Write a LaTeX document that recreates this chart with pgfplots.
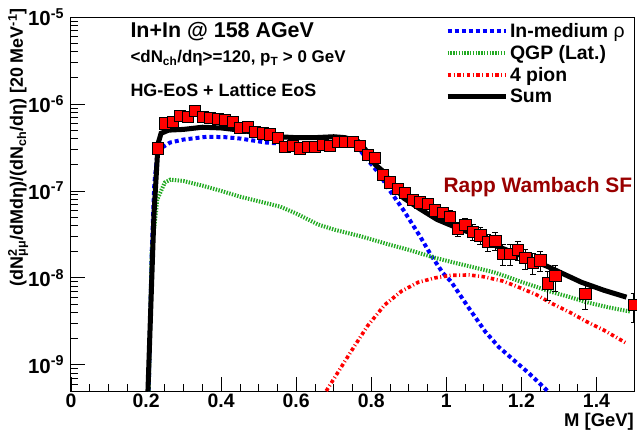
\documentclass[border=0pt]{standalone}
\usepackage{fontspec}
\setmainfont{Liberation Sans}
\usepackage{pgfplots}
\usepackage{pgfplotstable}
\pgfplotsset{compat=1.18}
\definecolor{rwred}{HTML}{990000}
\definecolor{rhoblue}{HTML}{0000FF}
\definecolor{qgpgreen}{HTML}{22AA22}
\definecolor{pionred}{HTML}{FF0000}

% NA60-like data: M [GeV], yield, error
\pgfplotstableread{
x y ey
0.23 3.1e-7 0.3e-7
0.25 6.0e-7 0.8e-7
0.27 6.2e-7 0.8e-7
0.29 7.4e-7 1.0e-7
0.31 7.1e-7 0.9e-7
0.33 8.3e-7 1.0e-7
0.35 7.2e-7 0.9e-7
0.37 6.9e-7 0.8e-7
0.39 6.7e-7 0.8e-7
0.41 6.6e-7 0.7e-7
0.43 6.3e-7 0.7e-7
0.45 5.3e-7 0.6e-7
0.47 5.5e-7 0.6e-7
0.49 4.8e-7 0.5e-7
0.51 4.6e-7 0.5e-7
0.53 4.5e-7 0.5e-7
0.55 4.1e-7 0.4e-7
0.57 3.2e-7 0.4e-7
0.59 3.3e-7 0.4e-7
0.61 3.1e-7 0.4e-7
0.63 3.2e-7 0.4e-7
0.65 3.2e-7 0.4e-7
0.67 3.4e-7 0.4e-7
0.69 3.3e-7 0.4e-7
0.71 3.7e-7 0.4e-7
0.73 3.7e-7 0.4e-7
0.75 3.7e-7 0.4e-7
0.77 3.3e-7 0.4e-7
0.79 2.6e-7 0.3e-7
0.81 2.4e-7 0.3e-7
0.83 1.55e-7 0.2e-7
0.85 1.26e-7 0.15e-7
0.87 1.07e-7 0.13e-7
0.89 9.5e-8 1.2e-8
0.91 7.9e-8 1.0e-8
0.93 7.4e-8 1.0e-8
0.95 7.2e-8 1.0e-8
0.97 6.0e-8 0.9e-8
0.99 5.6e-8 0.9e-8
1.01 5.0e-8 0.9e-8
1.03 3.7e-8 0.7e-8
1.05 4.1e-8 0.8e-8
1.07 3.4e-8 0.7e-8
1.09 3.1e-8 0.7e-8
1.11 2.6e-8 0.6e-8
1.13 2.7e-8 0.6e-8
1.15 1.9e-8 0.5e-8
1.17 1.9e-8 0.5e-8
1.19 2.1e-8 0.5e-8
1.21 1.7e-8 0.45e-8
1.23 1.5e-8 0.4e-8
1.25 1.6e-8 0.4e-8
1.27 8.7e-9 3.2e-9
1.29 1.05e-8 3.5e-9
1.37 6.6e-9 2.2e-9
1.499 4.9e-9 1.8e-9
}\datatable

\begin{document}
\begin{tikzpicture}
\useasboundingbox (-71bp,-39bp) rectangle (566bp,391bp);
\begin{axis}[
    scale only axis,
    width=563bp, height=374bp,
    xmin=0, xmax=1.5,
    ymode=log, ymin=5e-10, ymax=1e-5,
    xtick={0,0.2,0.4,0.6,0.8,1,1.2,1.4},
    xticklabels={0,0.2,0.4,0.6,0.8,1,1.2,1.4},
    minor x tick num=3,
    ytick={1e-9,1e-8,1e-7,1e-6,1e-5},
    yticklabels={10\textsuperscript{-9},10\textsuperscript{-8},10\textsuperscript{-7},10\textsuperscript{-6},10\textsuperscript{-5}},
    minor ytick={6e-10,7e-10,8e-10,9e-10,
      2e-9,3e-9,4e-9,5e-9,6e-9,7e-9,8e-9,9e-9,
      2e-8,3e-8,4e-8,5e-8,6e-8,7e-8,8e-8,9e-8,
      2e-7,3e-7,4e-7,5e-7,6e-7,7e-7,8e-7,9e-7,
      2e-6,3e-6,4e-6,5e-6,6e-6,7e-6,8e-6,9e-6},
    tick align=inside,
    tick pos=left,
    major tick length=14bp,
    minor tick length=7bp,
    tick style={line width=0.8bp, black},
    axis line style={line width=1bp},
    ticklabel style={font=\fontsize{20.5}{20}\selectfont\bfseries, inner sep=1bp},
    xticklabel style={font=\fontsize{19.5}{20}\selectfont\bfseries, yshift=-2bp},
    yticklabel style={xshift=-5.8bp},
    legend style={draw=none, fill=none, at={(0.664,0.99)}, anchor=north west,
      inner xsep=0pt, inner ysep=0pt, row sep=2.5bp,
      font=\fontsize{19.5}{21}\selectfont\bfseries,
      /tikz/every even column/.append style={column sep=14bp}},
    legend cell align=left,
    legend image code/.code={\draw[#1] (0bp,0bp) -- (58bp,0bp);},
]
% In-medium rho
\addplot[rhoblue, line width=4bp, dash pattern=on 4bp off 3bp] coordinates {
(0.207,5e-10) (0.215,2e-8) (0.222,1.2e-7) (0.229,2.4e-7) (0.245,3.2e-7)
(0.264,3.6e-7) (0.3,3.9e-7) (0.363,4.2e-7) (0.41,4.15e-7) (0.451,4.0e-7)
(0.52,3.6e-7) (0.6,3.4e-7) (0.68,3.4e-7) (0.72,3.5e-7) (0.75,3.3e-7)
(0.771,2.9e-7) (0.797,2.1e-7) (0.82,1.6e-7) (0.85,1.0e-7) (0.886,6e-8)
(0.93,3.0e-8) (0.96,1.8e-8) (0.99,1.15e-8) (1.013,9e-9) (1.06,4.5e-9)
(1.104,2.4e-9) (1.14,1.6e-9) (1.173,1.2e-9) (1.22,8e-10) (1.27,5e-10)
};
\addlegendentry{In-medium {\mdseries ρ}}
% QGP lattice
\addplot[qgpgreen, line width=4bp, dash pattern=on 1.4bp off 1.4bp] coordinates {
(0.207,5e-10) (0.215,2e-8) (0.23,8e-8) (0.25,1.25e-7) (0.265,1.35e-7)
(0.3,1.3e-7) (0.35,1.15e-7) (0.4,1.0e-7) (0.45,8.6e-8) (0.5,7.6e-8)
(0.557,6.6e-8) (0.6,5.5e-8) (0.659,4.1e-8) (0.7,3.6e-8) (0.773,3.0e-8)
(0.85,2.4e-8) (0.9,2.1e-8) (0.97,1.7e-8) (1.02,1.5e-8) (1.08,1.3e-8)
(1.13,1.15e-8) (1.2,9e-9) (1.28,6.9e-9) (1.33,6e-9) (1.37,5.3e-9)
(1.43,4.6e-9) (1.49,4.1e-9)
};
\addlegendentry{QGP (Lat.)}
% 4 pion
\addplot[pionred, line width=3.6bp, dash pattern=on 3.5bp off 2.5bp on 1bp off 2.5bp] coordinates {
(0.68,5e-10) (0.745,1.4e-9) (0.79,2.8e-9) (0.836,4.9e-9) (0.88,7e-9)
(0.925,8.9e-9) (0.97,1.0e-8) (1.013,1.07e-8) (1.06,1.08e-8) (1.10,1.03e-8)
(1.15,9.2e-9) (1.19,7.9e-9) (1.24,6.4e-9) (1.28,5.1e-9) (1.33,4e-9)
(1.37,3.2e-9) (1.42,2.5e-9) (1.477,1.8e-9)
};
\addlegendentry{4 pion}
% Sum
\addplot[black, line width=5bp] coordinates {
(0.205,5e-10) (0.221,5.3e-8) (0.232,3.5e-7) (0.24,4.6e-7) (0.26,5.0e-7)
(0.3,5.1e-7) (0.35,5.4e-7) (0.4,5.3e-7) (0.45,5.0e-7) (0.5,4.6e-7)
(0.55,4.2e-7) (0.6,4.1e-7) (0.65,4.1e-7) (0.7,4.2e-7) (0.73,4.1e-7)
(0.765,3.7e-7) (0.79,2.8e-7) (0.811,2.0e-7) (0.83,1.7e-7) (0.85,1.3e-7)
(0.886,8.3e-8) (0.93,6.2e-8) (0.975,4.7e-8) (1.02,3.9e-8) (1.064,3.3e-8)
(1.125,2.4e-8) (1.2,1.8e-8) (1.27,1.35e-8) (1.36,8.9e-9) (1.42,7.2e-9)
(1.48,6.0e-9)
};
\addlegendentry{Sum}
% data: error bars then squares
\addplot[forget plot, draw=none, mark=none,
  error bars/.cd, y dir=both, y explicit,
  error bar style={black, line width=0.7bp},
  error mark options={rotate=90, mark size=3bp, black, line width=0.7bp}]
  table[x=x, y=y, y error=ey] {\datatable};
\addplot[forget plot, only marks, mark=square*, mark size=5.6bp,
  mark options={fill=pionred, draw=none}] table[x=x, y=y] {\datatable};
\end{axis}
\node[anchor=base west, font=\fontsize{21.5}{22}\selectfont\bfseries] at (56bp,353bp) {In+In @ 158 AGeV};
\node[anchor=base west, font=\fontsize{17}{18}\selectfont\bfseries] at (56bp,328bp) {<dN\textsubscript{ch}/dη>=120, p\textsubscript{T} > 0 GeV};
\node[anchor=base west, font=\fontsize{18}{18}\selectfont\bfseries] at (56bp,294bp) {HG-EoS + Lattice EoS};
\node[anchor=base west, text=rwred, font=\fontsize{21}{21}\selectfont\bfseries] at (369bp,198bp) {Rapp Wambach SF};
\node[anchor=base east, inner sep=0pt, font=\fontsize{18.5}{19}\selectfont\bfseries] at (563bp,-35.5bp) {M [GeV]};
\node[rotate=90, anchor=base east, font=\fontsize{18}{18}\selectfont\bfseries] at (-48bp,386bp)
  {(dN\rlap{\textsuperscript{2}}\textsubscript{μμ}/dMdη)/(dN\textsubscript{ch}/dη) [20 MeV\textsuperscript{-1}]};
\end{tikzpicture}
\end{document}
